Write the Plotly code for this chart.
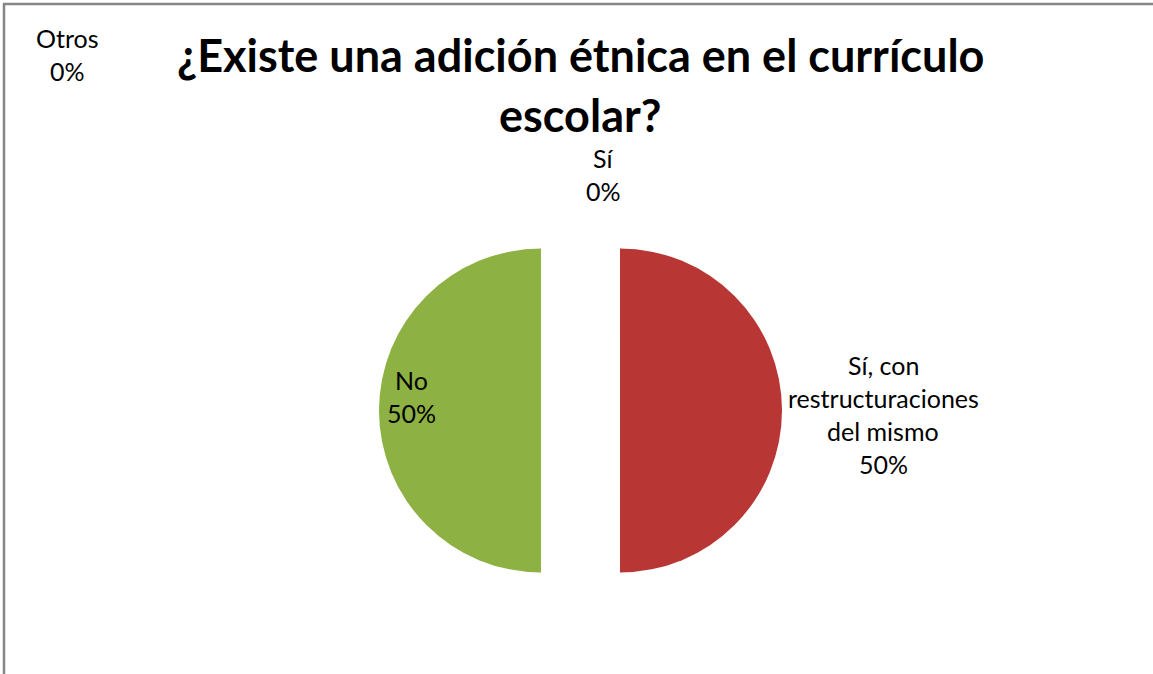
import plotly.graph_objects as go

# Survey answers, in clockwise order starting at 12 o'clock
labels = ["Sí", "Sí, con restructuraciones del mismo", "No", "Otros"]
values = [0, 50, 50, 0]
colors = ["#4F81BD", "#B83634", "#8DB143", "#8064A2"]

title_lines = ["¿Existe una adición étnica en el currículo", "escolar?"]

W, H = 1153, 674
FONT = "Lato"

fig = go.Figure()
fig.add_trace(go.Pie(
    labels=labels,
    values=values,
    sort=False,
    direction="clockwise",
    rotation=0,
    pull=[0.244] * len(values),
    marker=dict(colors=colors, line=dict(width=0)),
    textinfo="none",
    hoverinfo="label+percent",
    showlegend=False,
    domain=dict(x=[379 / W, 782 / W], y=[(H - 612) / H, (H - 209) / H]),
))

total = sum(values)
pct = [f"{round(100 * v / total)}%" for v in values]

# label anchor points (pixel centres of the first line) and line step
label_pos = {
    "Sí": (603, 158, ["Sí"]),
    "Sí, con restructuraciones del mismo": (883, 365, ["Sí, con", "restructuraciones", "del mismo"]),
    "No": (411, 380, ["No"]),
    "Otros": (67, 38, ["Otros"]),
}
step = 33

annotations = []
for lab, p in zip(labels, pct):
    x, y, lines = label_pos[lab]
    for i, line in enumerate(lines + [p]):
        annotations.append(dict(
            x=x / W, y=1 - (y + i * step) / H, xref="paper", yref="paper",
            text=line, showarrow=False, xanchor="center", yanchor="middle",
            font=dict(family=FONT, size=25, color="#000000"),
        ))

for i, t in enumerate(title_lines):
    annotations.append(dict(
        x=580 / W, y=1 - (55 + i * 60) / H, xref="paper", yref="paper",
        text=f"<b>{t}</b>", showarrow=False, xanchor="center", yanchor="middle",
        font=dict(family=FONT, size=45, color="#000000"),
    ))

fig.update_layout(
    width=W, height=H,
    margin=dict(l=0, r=0, t=0, b=0),
    paper_bgcolor="#FFFFFF",
    plot_bgcolor="#FFFFFF",
    annotations=annotations,
    shapes=[dict(
        type="rect", xref="paper", yref="paper",
        x0=4 / W, x1=1.02, y0=-0.02, y1=1 - 4 / H,
        line=dict(color="#868686", width=2.5),
        fillcolor="rgba(0,0,0,0)", layer="above",
    )],
)

fig.write_html("out.html")
